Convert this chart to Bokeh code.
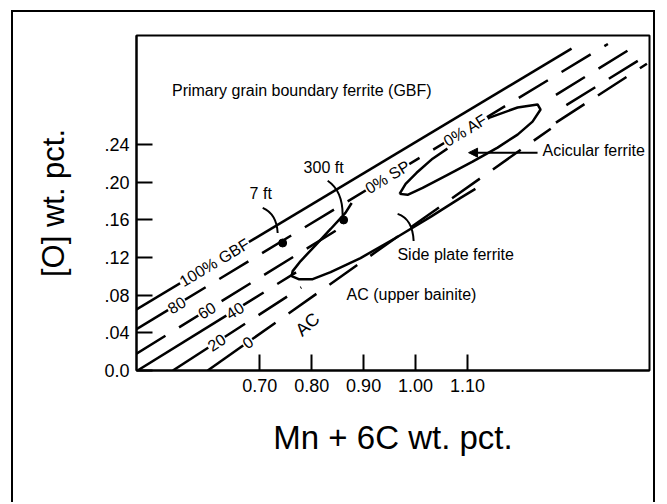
import math
from bokeh.plotting import figure
from bokeh.models import (FixedTicker, CustomJSTickFormatter, Label, Arrow,
                          NormalHead)
from bokeh.embed import file_html
from bokeh.resources import INLINE
from bokeh.core.properties import value

FONT = "Liberation Sans"

# ---------------- axes ----------------
x_ticks = [0.70, 0.80, 0.90, 1.00, 1.10]
y_ticks = [0.0, 0.04, 0.08, 0.12, 0.16, 0.20, 0.24]
x_lo, x_hi = 0.463, 1.45
y_lo, y_hi = 0.0, 0.356

# ---------------- GBF contour lines (100% ... 0%) ----------------
line_names = ["100% GBF", "80", "60", "40", "20", "0"]
line_x_start = [0.463, 0.463, 0.463, 0.465, 0.533, 0.600]
line_y_start = [0.065, 0.044, 0.018, 0.000, 0.000, 0.000]
line_x_end = [1.300, 1.370, 1.420, 1.445, 1.445, 1.260]
line_y_end = [0.342, 0.347, 0.344, 0.335, 0.326, 0.257]
line_solid_until = [1.300, 0.540, 0.463, 0.652, 0.617, 0.677]
line_hidden_from = [None, None, 0.850, 0.770, 0.780, None]
line_hidden_to = [None, None, 1.270, 1.290, 1.270, None]
line_label_x = [0.613, 0.540, 0.598, 0.652, 0.617, 0.677]

# labels riding on the 80 % line
on_line_texts = ["0% SP", "0% AF"]
on_line_x = [0.946, 1.096]

# ---------------- 0% side plate contour ----------------
sp_x = [0.877, 0.865, 0.8365, 0.8077, 0.7788, 0.7635, 0.7615, 0.775, 0.802,
        0.8365, 0.894, 0.9615, 1.0288, 1.0865, 1.115]
sp_y = [0.178, 0.1675, 0.1504, 0.1333, 0.1163, 0.1056, 0.1003, 0.0971, 0.0971,
        0.1045, 0.1195, 0.1408, 0.1632, 0.1835, 0.193]

# ---------------- 0% acicular ferrite loop ----------------
af_x = [0.9692, 0.9808, 1.0019, 1.0327, 1.0808, 1.1423, 1.1962, 1.2346, 1.2404,
        1.225, 1.1962, 1.1577, 1.1096, 1.0615, 1.0135, 0.9846, 0.9692]
af_y = [0.1877, 0.1984, 0.2101, 0.2251, 0.2432, 0.2688, 0.2795, 0.2827, 0.2773,
        0.2645, 0.2507, 0.2368, 0.2219, 0.2080, 0.1941, 0.1867, 0.1877]

# ---------------- sample points & leaders ----------------
dot_x = [0.7442, 0.8615]
dot_y = [0.1355, 0.1600]
leader_x0 = [0.7058, 0.8308, 0.9654]
leader_y0 = [0.1728, 0.2016, 0.1664]
leader_cx = [0.7327, 0.8596, 0.9942]
leader_cy = [0.1664, 0.1909, 0.1611]
leader_x1 = [0.7346, 0.8596, 0.9962]
leader_y1 = [0.1461, 0.1653, 0.1376]

# ---------------- region / point annotations ----------------
center_texts = ["Primary grain boundary ferrite (GBF)", "7 ft", "300 ft",
                "AC (upper bainite)"]
center_x = [0.781, 0.702, 0.823, 0.992]
center_y = [0.298, 0.1877, 0.2155, 0.081]
left_texts = ["Side plate ferrite", "Acicular ferrite"]
left_x = [0.965, 1.2442]
left_y = [0.1237, 0.2336]
ac_text, ac_x, ac_y = "AC", 0.792, 0.049
arrow_x_start, arrow_x_end, arrow_y = 1.2346, 1.1019, 0.2315

# ---------------- figure ----------------
FW, FH = 513, 335
p = figure(width=644, height=492, x_range=(x_lo, x_hi), y_range=(y_lo, y_hi),
           output_backend="svg", toolbar_location=None,
           min_border_left=123, min_border_right=8, min_border_top=23,
           min_border_bottom=134, margin=(10, 0, 0, 11),
           styles={"border-top": "2px solid black",
                   "border-left": "2px solid black",
                   "border-right": "2px solid black"})
p.background_fill_color = "white"
p.border_fill_color = "white"
p.xgrid.visible = False
p.ygrid.visible = False
p.outline_line_color = "black"
p.outline_line_width = 2
p.outline_line_alpha = 1

for ax in (p.xaxis[0], p.yaxis[0]):
    ax.axis_line_width = 2
    ax.major_tick_line_width = 2
    ax.major_tick_in = 16
    ax.major_tick_out = 0
    ax.minor_tick_line_color = None
    ax.major_label_text_font = FONT
    ax.major_label_text_font_size = "18px"
    ax.major_label_text_color = "black"
    ax.axis_label_text_font = FONT
    ax.axis_label_text_font_style = "normal"
    ax.axis_label_text_color = "black"

p.xaxis.ticker = FixedTicker(ticks=x_ticks)
p.yaxis.ticker = FixedTicker(ticks=y_ticks)
p.xaxis.formatter = CustomJSTickFormatter(code="return tick.toFixed(2);")
p.yaxis.formatter = CustomJSTickFormatter(
    code="return tick === 0 ? '0.0' : tick.toFixed(2).replace(/^0/, '');")
p.xaxis.major_label_standoff = 8
p.yaxis.major_label_standoff = 7
p.xaxis.axis_label = "Mn + 6C wt. pct."
p.yaxis.axis_label = "[O] wt. pct."
p.xaxis.axis_label_text_font_size = "33px"
p.yaxis.axis_label_text_font_size = "31px"
p.xaxis.axis_label_standoff = 24
p.yaxis.axis_label_standoff = 30

sx = FW / (x_hi - x_lo)
sy = FH / (y_hi - y_lo)


def y_on(i, x):
    xs, ys, xe, ye = line_x_start[i], line_y_start[i], line_x_end[i], line_y_end[i]
    return ys + (ye - ys) * (x - xs) / (xe - xs)


def angle_of(i):
    slope = (line_y_end[i] - line_y_start[i]) / (line_x_end[i] - line_x_start[i])
    return math.atan(slope * sy / sx)


solid_xs, solid_ys, dash_xs, dash_ys = [], [], [], []
for i in range(len(line_names)):
    xs, xe = line_x_start[i], line_x_end[i]
    su = min(max(line_solid_until[i], xs), xe)
    if su > xs:
        solid_xs.append([xs, su]); solid_ys.append([y_on(i, xs), y_on(i, su)])
    pieces = [(su, xe)]
    if line_hidden_from[i] is not None:
        hf, ht = line_hidden_from[i], line_hidden_to[i]
        pieces = [(su, hf), (ht, xe)]
    for a, b in pieces:
        if b > a:
            dash_xs.append([a, b]); dash_ys.append([y_on(i, a), y_on(i, b)])

p.multi_line(solid_xs, solid_ys, line_color="black", line_width=2.5)
p.multi_line(dash_xs, dash_ys, line_color="black", line_width=2.5,
             line_dash="34 16")

p.line(sp_x, sp_y, line_color="black", line_width=2.5)
p.line(af_x, af_y, line_color="black", line_width=2.5)

p.quadratic(x0=leader_x0, y0=leader_y0, x1=leader_x1, y1=leader_y1,
            cx=leader_cx, cy=leader_cy, line_color="black", line_width=2)
p.scatter(dot_x, dot_y, size=8, color="black")

p.add_layout(Arrow(end=NormalHead(size=9, fill_color="black", line_color="black"),
                   x_start=arrow_x_start, y_start=arrow_y,
                   x_end=arrow_x_end, y_end=arrow_y,
                   line_color="black", line_width=2))

# labels on the contour lines (white box breaks the line)
for i, name in enumerate(line_names):
    lx = line_label_x[i]
    p.add_layout(Label(x=lx, y=y_on(i, lx), text=name, angle=angle_of(i),
                       text_align="center", text_baseline="middle",
                       text_font=FONT, text_font_size="16px",
                       text_color="black",
                       background_fill_color="white", padding=1))
for t, lx in zip(on_line_texts, on_line_x):
    p.add_layout(Label(x=lx, y=y_on(1, lx), text=t, angle=angle_of(1),
                       text_align="center", text_baseline="middle",
                       text_font=FONT, text_font_size="16px",
                       text_color="black",
                       background_fill_color="white", padding=1))
p.add_layout(Label(x=ac_x, y=ac_y, text=ac_text, angle=angle_of(5) + 0.12,
                   text_align="center", text_baseline="middle",
                   text_font=FONT, text_font_size="18px", text_color="black"))

p.text(center_x, center_y, text=center_texts, text_font=value(FONT),
       text_font_size="16px", text_align="center", text_baseline="middle",
       text_color="black")
p.text(left_x, left_y, text=left_texts, text_font=value(FONT),
       text_font_size="16px", text_align="left", text_baseline="middle",
       text_color="black")

open("out.html", "w").write(file_html(p, INLINE))
